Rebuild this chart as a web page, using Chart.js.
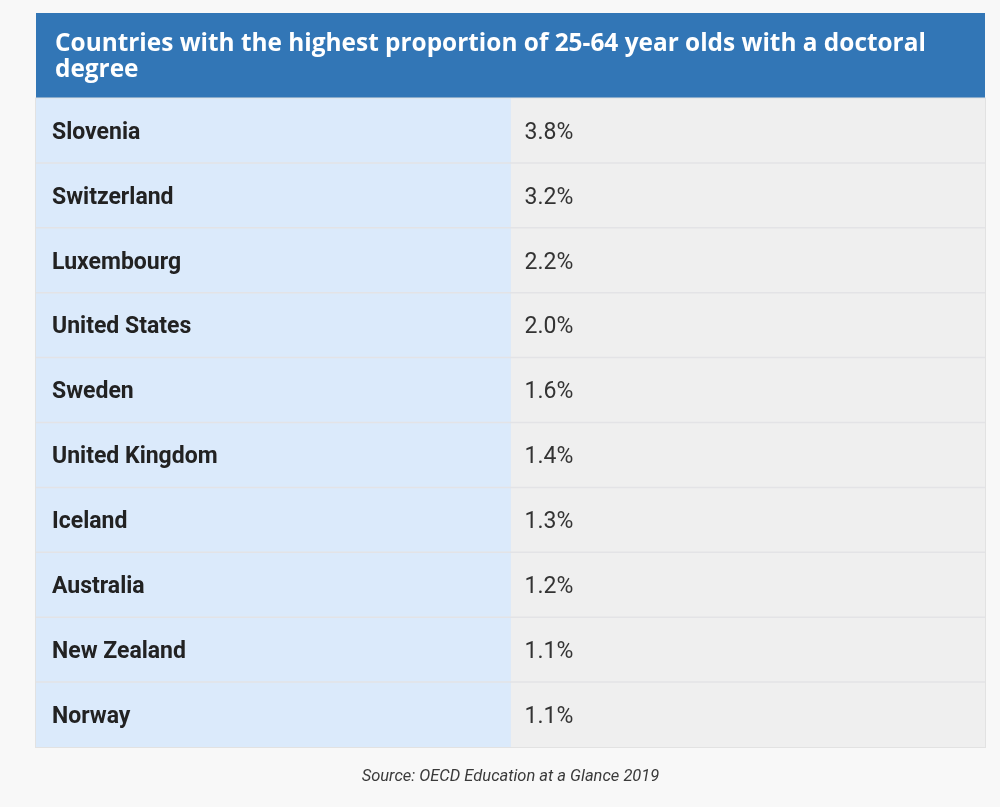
<!DOCTYPE html>
<html>
<head>
<meta charset="utf-8">
<script src="https://cdn.jsdelivr.net/npm/chart.js@4"></script>
<style>
  html, body { margin: 0; padding: 0; background: #f8f8f8; }
  #wrap { width: 1000px; height: 807px; }
</style>
</head>
<body>
<div id="wrap"><canvas id="table"></canvas></div>
<script>
const titleLines = ["Countries with the highest proportion of 25-64 year olds with a doctoral", "degree"];
const countries = ["Slovenia", "Switzerland", "Luxembourg", "United States", "Sweden",
  "United Kingdom", "Iceland", "Australia", "New Zealand", "Norway"];
const shares = [3.8, 3.2, 2.2, 2.0, 1.6, 1.4, 1.3, 1.2, 1.1, 1.1];
const columns = ["Country", "Share"];
const source = "Source: OECD Education at a Glance 2019";

// header band, row lines, cell text, source line
const tableDecor = {
  id: "tableDecor",
  afterDraw(chart) {
    const ctx = chart.ctx;
    const area = chart.chartArea;
    const x = chart.scales.x;
    const y = chart.scales.y;

    ctx.save();
    // header
    ctx.fillStyle = "#3276b6";
    ctx.fillRect(area.left, 13, area.right - area.left, area.top - 13);
    ctx.fillStyle = "#ffffff";
    ctx.font = "bold 24.4px 'Open Sans', sans-serif";
    ctx.textBaseline = "alphabetic";
    ctx.textAlign = "left";
    titleLines.forEach((line, i) => ctx.fillText(line, area.left + 19, 51 + i * 26));

    // row separators
    ctx.strokeStyle = "#e3e3e6";
    ctx.lineWidth = 1.5;
    for (let i = 0; i < countries.length - 1; i++) {
      const ly = (y.getPixelForValue(i) + y.getPixelForValue(i + 1)) / 2;
      ctx.beginPath();
      ctx.moveTo(area.left, ly);
      ctx.lineTo(area.right, ly);
      ctx.stroke();
    }

    // outer border
    ctx.strokeStyle = "#e2e2e2";
    ctx.lineWidth = 1;
    ctx.strokeRect(area.left - 0.5, area.top, area.right - area.left + 1, area.bottom - area.top + 0.5);

    // cell text
    ctx.textBaseline = "middle";
    countries.forEach((name, i) => {
      const cy = y.getPixelForValue(i) + 2.5;
      ctx.fillStyle = "#222222";
      ctx.font = "bold 23px Roboto, sans-serif";
      ctx.fillText(name, x.getPixelForValue(0) + 16, cy);
      ctx.fillStyle = "#333333";
      ctx.font = "23px Roboto, sans-serif";
      ctx.fillText(shares[i].toFixed(1) + "%", x.getPixelForValue(1) + 14, cy);
    });

    // source
    ctx.fillStyle = "#3a3a3a";
    ctx.font = "italic 16.5px Roboto, sans-serif";
    ctx.textAlign = "center";
    ctx.fillText(source, (area.left + area.right) / 2, 777);
    ctx.restore();
  }
};

new Chart(document.getElementById("table"), {
  type: "bar",
  data: {
    labels: countries,
    datasets: [
      {
        label: columns[0],
        data: countries.map(() => [0, 1]),
        backgroundColor: "#dbeafb"
      },
      {
        label: columns[1],
        data: shares.map(() => [1, 2]),
        backgroundColor: "#efefef"
      }
    ]
  },
  options: {
    indexAxis: "y",
    responsive: true,
    maintainAspectRatio: false,
    animation: false,
    barPercentage: 1,
    categoryPercentage: 1,
    layout: { padding: { left: 36, right: 15, top: 98, bottom: 60 } },
    plugins: {
      legend: { display: false },
      tooltip: { enabled: false }
    },
    scales: {
      x: { display: false, min: 0, max: 2, stacked: false },
      y: {
        stacked: true,
        ticks: { display: false },
        border: { display: false },
        grid: { display: false, drawTicks: false, tickLength: 0 }
      }
    }
  },
  plugins: [tableDecor]
});
</script>
</body>
</html>
